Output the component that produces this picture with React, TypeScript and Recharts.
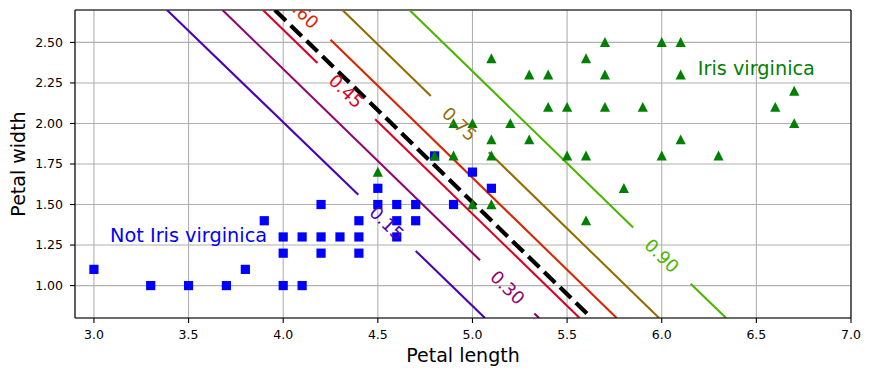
import React from 'react';
import {
  ComposedChart,
  XAxis,
  YAxis,
  CartesianGrid,
  Scatter,
  Line,
  ReferenceDot,
  ReferenceLine,
} from 'recharts';

const FONT = '"DejaVu Sans", sans-serif';

// Not Iris virginica (petal length, petal width)
const notVirginicaLength = [3.0, 3.3, 3.5, 3.7, 3.8, 3.9, 4.0, 4.0, 4.0, 4.1, 4.1, 4.2, 4.2, 4.2, 4.3, 4.4, 4.4, 4.4, 4.5, 4.5, 4.6, 4.6, 4.6, 4.7, 4.7, 4.8, 4.9, 5.0, 5.1];
const notVirginicaWidth = [1.1, 1.0, 1.0, 1.0, 1.1, 1.4, 1.3, 1.2, 1.0, 1.3, 1.0, 1.5, 1.3, 1.2, 1.3, 1.4, 1.3, 1.2, 1.6, 1.5, 1.5, 1.4, 1.3, 1.5, 1.4, 1.8, 1.5, 1.7, 1.6];

// Iris virginica (petal length, petal width)
const virginicaLength = [5.7, 6.0, 6.1, 5.1, 5.6, 5.3, 5.4, 5.7, 6.1, 6.7, 5.4, 5.5, 5.7, 5.9, 6.6, 4.9, 5.0, 5.2, 6.7, 5.1, 5.3, 6.1, 4.8, 4.9, 5.1, 5.5, 5.6, 6.0, 6.3, 5.8, 5.0, 5.1, 5.6, 4.5];
const virginicaWidth = [2.5, 2.5, 2.5, 2.4, 2.4, 2.3, 2.3, 2.3, 2.3, 2.2, 2.1, 2.1, 2.1, 2.1, 2.1, 2.0, 2.0, 2.0, 2.0, 1.9, 1.9, 1.9, 1.8, 1.8, 1.8, 1.8, 1.8, 1.8, 1.8, 1.6, 1.5, 1.5, 1.4, 1.7];

const xTicks = [3.0, 3.5, 4.0, 4.5, 5.0, 5.5, 6.0, 6.5, 7.0];
const yTicks = [1.0, 1.25, 1.5, 1.75, 2.0, 2.25, 2.5];

// Probability contour levels and their line pieces: [x1, y1, x2, y2]
const contourLevels = [0.15, 0.30, 0.45, 0.60, 0.75, 0.90];
const contour015 = [[3.386, 2.7, 4.397, 1.560], [4.700, 1.214, 5.066, 0.8]];
const contour030 = [[3.679, 2.7, 5.040, 1.156], [5.327, 0.828, 5.352, 0.8]];
const contour045 = [[3.893, 2.7, 4.181, 2.373], [4.486, 2.026, 5.566, 0.8]];
const contour060 = [[4.250, 2.517, 5.762, 0.8]];
const contour075 = [[4.313, 2.7, 4.780, 2.170], [5.086, 1.822, 5.986, 0.8]];
const contour090 = [[4.667, 2.7, 5.849, 1.358], [6.153, 1.012, 6.340, 0.8]];
const contourLabelX = [4.548, 5.186, 4.333, 4.098, 4.932, 6.001];
const contourLabelY = [1.387, 0.989, 2.200, 2.690, 1.997, 1.185];

// Decision boundary (p = 0.5)
const boundaryX = [3.956, 5.629];
const boundaryY = [2.7, 0.8];

const contourColors = ['#4900b6', '#92006d', '#da0024', '#da2400', '#926d00', '#49b600'];
const contourSegments = [contour015, contour030, contour045, contour060, contour075, contour090];

const blueData = notVirginicaLength.map((x, i) => ({ x, y: notVirginicaWidth[i] }));
const greenData = virginicaLength.map((x, i) => ({ x, y: virginicaWidth[i] }));
const boundaryData = boundaryX.map((x, i) => ({ x, y: boundaryY[i] }));

const Square = (p: any) => (
  <rect x={p.cx - 4.6} y={p.cy - 4.6} width={9.2} height={9.2} fill="#0000ff" />
);
const Triangle = (p: any) => (
  <polygon
    points={`${p.cx},${p.cy - 5.3} ${p.cx - 5.1},${p.cy + 4.6} ${p.cx + 5.1},${p.cy + 4.6}`}
    fill="#008000"
  />
);

const ANGLE = 44;

export default function App() {
  return (
    <div style={{ position: 'absolute', left: 0, top: 0, background: '#fff' }}>
      <ComposedChart width={870} height={376} margin={{ top: 10, right: 19, left: 0, bottom: 0 }}>
        <CartesianGrid stroke="#b0b0b0" strokeWidth={1.1} />
        <XAxis
          type="number"
          dataKey="x"
          domain={[2.9, 7.0]}
          allowDataOverflow
          ticks={xTicks}
          tickFormatter={(v: number) => v.toFixed(1)}
          height={58}
          tickSize={5}
          tickMargin={7}
          axisLine={{ stroke: '#000', strokeWidth: 1.1 }}
          tickLine={{ stroke: '#000', strokeWidth: 1.1 }}
          tick={{ fill: '#000', fontSize: 12.5, fontFamily: FONT }}
          label={{
            content: (props: any) => {
              const vb = props.viewBox || { x: 75, y: 318, width: 776, height: 58 };
              return (
                <text x={vb.x + vb.width / 2} y={vb.y + 43.7} textAnchor="middle" fontSize={19} fontFamily={FONT} fill="#000">
                  Petal length
                </text>
              );
            },
          }}
        />
        <YAxis
          type="number"
          dataKey="y"
          domain={[0.8, 2.7]}
          allowDataOverflow
          ticks={yTicks}
          tickFormatter={(v: number) => v.toFixed(2)}
          width={75}
          tickSize={5}
          tickMargin={7}
          axisLine={{ stroke: '#000', strokeWidth: 1.1 }}
          tickLine={{ stroke: '#000', strokeWidth: 1.1 }}
          tick={{ fill: '#000', fontSize: 12.5, fontFamily: FONT }}
          label={{
            content: (props: any) => {
              const vb = props.viewBox || { x: 0, y: 10, width: 75, height: 308 };
              const cx = vb.x + 25;
              const cy = vb.y + vb.height / 2;
              return (
                <text x={cx} y={cy} transform={`rotate(-90 ${cx} ${cy})`} textAnchor="middle" fontSize={19} fontFamily={FONT} fill="#000">
                  Petal width
                </text>
              );
            },
          }}
        />
        <ReferenceLine y={2.7} stroke="#000" strokeWidth={1.1} />
        <ReferenceLine x={7.0} stroke="#000" strokeWidth={1.1} />

        <Scatter data={blueData} shape={Square} isAnimationActive={false} />
        <Scatter data={greenData} shape={Triangle} isAnimationActive={false} />

        {contourSegments.map((segs, li) =>
          segs.map((s, si) => (
            <Line
              key={`c${li}-${si}`}
              data={[{ x: s[0], y: s[1] }, { x: s[2], y: s[3] }]}
              dataKey="y"
              type="linear"
              stroke={contourColors[li]}
              strokeWidth={2.08}
              dot={false}
              activeDot={false}
              isAnimationActive={false}
            />
          ))
        )}

        {contourLevels.map((lvl, li) => (
          <ReferenceDot
            key={`lab${li}`}
            x={contourLabelX[li]}
            y={contourLabelY[li]}
            ifOverflow="hidden"
            shape={(p: any) => (
              <g clipPath={p.clipPath}>
                <text
                  x={p.cx}
                  y={p.cy}
                  transform={`rotate(${ANGLE} ${p.cx} ${p.cy})`}
                  textAnchor="middle"
                  dominantBaseline="central"
                  fill={contourColors[li]}
                  fontSize={17.8}
                  fontFamily={FONT}
                >
                  {lvl.toFixed(2)}
                </text>
              </g>
            )}
          />
        ))}

        <Line
          data={boundaryData}
          dataKey="y"
          type="linear"
          stroke="#000"
          strokeWidth={4.2}
          strokeDasharray="15.4 6.7"
          dot={false}
          activeDot={false}
          isAnimationActive={false}
        />

        <ReferenceDot
          x={3.5}
          y={1.27}
          shape={(p: any) => (
            <text x={p.cx} y={p.cy} textAnchor="middle" fill="#0000ff" fontSize={19.3} fontFamily={FONT}>
              Not Iris virginica
            </text>
          )}
        />
        <ReferenceDot
          x={6.5}
          y={2.3}
          shape={(p: any) => (
            <text x={p.cx} y={p.cy} textAnchor="middle" fill="#008000" fontSize={19.3} fontFamily={FONT}>
              Iris virginica
            </text>
          )}
        />
      </ComposedChart>
    </div>
  );
}
